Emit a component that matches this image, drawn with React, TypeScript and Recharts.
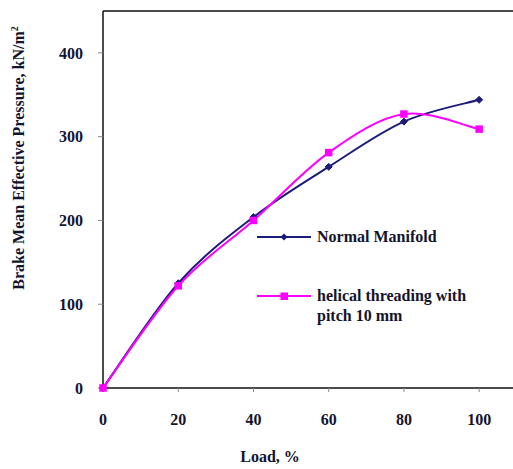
import React from 'react';
import { LineChart, Line, XAxis, YAxis, ReferenceLine, Legend, Label } from 'recharts';

const loads = [0, 20, 40, 60, 80, 100];
const normalManifold = [0, 125, 204, 264, 318, 344];
const helicalPitch10 = [0, 122, 200, 281, 327, 309];
const xTicks = [0, 20, 40, 60, 80, 100];
const yTicks = [0, 100, 200, 300, 400];

const data = loads.map((l, i) => ({ load: l, normal: normalManifold[i], helical: helicalPitch10[i] }));

const FONT = '"Liberation Serif", "Times New Roman", serif';
const TEXT = '#14142e';
const BLUE = '#1c1c7a';
const PINK = '#ff00ff';

// Excel-like smoothed curve (Catmull-Rom style bezier)
function smoothCurve(context: any) {
  let pts: number[][] = [];
  return {
    areaStart() {},
    areaEnd() {},
    lineStart() { pts = []; },
    point(x: number, y: number) { pts.push([+x, +y]); },
    lineEnd() {
      const n = pts.length;
      if (!n) return;
      context.moveTo(pts[0][0], pts[0][1]);
      for (let i = 0; i < n - 1; i++) {
        const p0 = pts[i - 1] || pts[i];
        const p1 = pts[i];
        const p2 = pts[i + 1];
        const p3 = pts[i + 2] || pts[i + 1];
        context.bezierCurveTo(
          p1[0] + (p2[0] - p0[0]) / 6, p1[1] + (p2[1] - p0[1]) / 6,
          p2[0] - (p3[0] - p1[0]) / 6, p2[1] - (p3[1] - p1[1]) / 6,
          p2[0], p2[1]
        );
      }
    },
  };
}

const Diamond = (props: any) => {
  const { cx, cy, index } = props;
  if (cx == null || cy == null) return null;
  const r = 3.5;
  return <path key={`d${index}`} d={`M${cx},${cy - r}L${cx + r},${cy}L${cx},${cy + r}L${cx - r},${cy}Z`} fill={BLUE} stroke={BLUE} />;
};

const Square = (props: any) => {
  const { cx, cy, index } = props;
  if (cx == null || cy == null) return null;
  const s = 7.5;
  return <rect key={`s${index}`} x={cx - s / 2} y={cy - s / 2} width={s} height={s} fill={PINK} />;
};

const LegendContent = () => (
  <div style={{ fontFamily: FONT, fontWeight: 'bold', fontSize: 16, color: TEXT, lineHeight: '20px' }}>
    <div style={{ display: 'flex', alignItems: 'center' }}>
      <svg width={60} height={20}>
        <line x1={0} y1={10} x2={54} y2={10} stroke={BLUE} strokeWidth={2} />
        <path d="M27,6.5L30.5,10L27,13.5L23.5,10Z" fill={BLUE} />
      </svg>
      <span>Normal Manifold</span>
    </div>
    <div style={{ display: 'flex', alignItems: 'flex-start', marginTop: 39 }}>
      <svg width={60} height={20}>
        <line x1={0} y1={10} x2={54} y2={10} stroke={PINK} strokeWidth={2} />
        <rect x={23.5} y={6.5} width={7.5} height={7.5} fill={PINK} />
      </svg>
      <span>helical threading with<br />pitch 10 mm</span>
    </div>
  </div>
);

export default function App() {
  return (
    <div style={{ position: 'absolute', left: 0, top: 0, width: 513, height: 469, background: '#fff', overflow: 'hidden' }}>
      <LineChart width={513} height={469} data={data} margin={{ top: 11, right: 0, bottom: 0, left: 0 }}>
        <XAxis
          dataKey="load"
          type="number"
          domain={[0, 109]}
          ticks={xTicks}
          height={81}
          tickSize={4}
          tickMargin={22}
          axisLine={{ stroke: '#111', strokeWidth: 1.5 }}
          tickLine={{ stroke: '#888' }}
          tick={{ fontFamily: FONT, fontWeight: 'bold', fontSize: 16, fill: TEXT }}
        >
          <Label
            content={() => (
              <text x={270} y={462} textAnchor="middle" fontFamily={FONT} fontWeight="bold" fontSize={16} fill={TEXT}>
                Load, %
              </text>
            )}
          />
        </XAxis>
        <YAxis
          type="number"
          domain={[0, 450]}
          ticks={yTicks}
          width={103}
          tickSize={5}
          tickMargin={15}
          axisLine={{ stroke: '#111', strokeWidth: 1.5 }}
          tickLine={{ stroke: '#888' }}
          tick={{ fontFamily: FONT, fontWeight: 'bold', fontSize: 16, fill: TEXT }}
        >
          <Label
            content={() => (
              <text
                x={0}
                y={0}
                transform="translate(24,158) rotate(-90)"
                textAnchor="middle"
                fontFamily={FONT}
                fontWeight="bold"
                fontSize={16}
                fill={TEXT}
              >
                Brake Mean Effective Pressure, kN/m<tspan dy={-6} fontSize={10}>2</tspan>
              </text>
            )}
          />
        </YAxis>
        <ReferenceLine y={450} stroke="#111" strokeWidth={1.5} />
        <Legend
          layout="horizontal"
          verticalAlign="middle"
          align="center"
          content={<LegendContent />}
          wrapperStyle={{ left: 257, top: 227, width: 250 }}
        />
        <Line
          dataKey="normal"
          name="Normal Manifold"
          type={smoothCurve as any}
          stroke={BLUE}
          strokeWidth={2}
          dot={<Diamond />}
          activeDot={false}
          isAnimationActive={false}
        />
        <Line
          dataKey="helical"
          name="helical threading with pitch 10 mm"
          type={smoothCurve as any}
          stroke={PINK}
          strokeWidth={2}
          dot={<Square />}
          activeDot={false}
          isAnimationActive={false}
        />
      </LineChart>
    </div>
  );
}
